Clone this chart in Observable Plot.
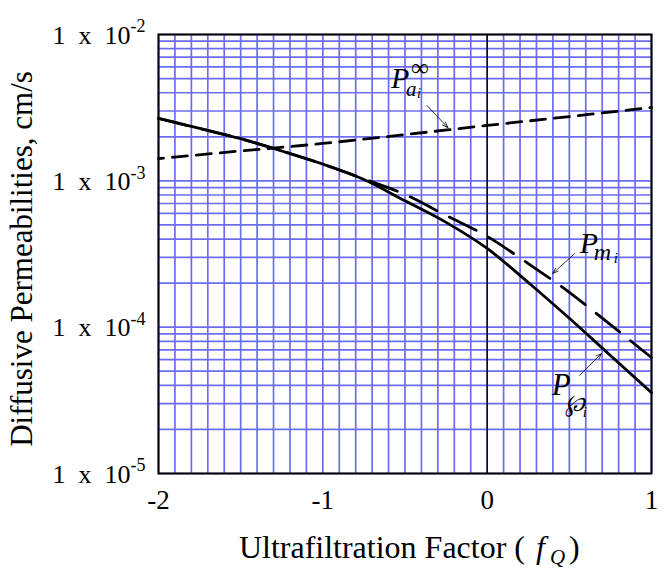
<!DOCTYPE html>
<html>
<head>
<meta charset="utf-8">
<script src="https://cdn.jsdelivr.net/npm/d3@7"></script>
<script src="https://cdn.jsdelivr.net/npm/@observablehq/plot@0.6"></script>
<style>
  html, body { margin: 0; padding: 0; background: #fff; }
  #chart { width: 664px; height: 586px; }
</style>
</head>
<body>
<div id="chart"></div>
<script>
// ---- data ----
const fq = [-2, -1.75, -1.5, -1.25, -1, -0.75, -0.5, -0.25, 0, 0.25, 0.5, 0.75, 1];
const pWeier = [2.67e-3, 2.28e-3, 1.94e-3, 1.60e-3, 1.30e-3, 1.02e-3, 7.3e-4, 5.2e-4, 3.45e-4, 2.02e-4, 1.15e-4, 6.4e-5, 3.57e-5];
const pMem   = [2.67e-3, 2.28e-3, 1.94e-3, 1.60e-3, 1.30e-3, 1.03e-3, 8.07e-4, 5.8e-4, 4.17e-4, 2.72e-4, 1.73e-4, 1.04e-4, 6.2e-5];
const fqA = [-2, -1.5, -1, -0.5, 0, 0.5, 1];
const pAinf = [1.42e-3, 1.60e-3, 1.80e-3, 2.07e-3, 2.39e-3, 2.75e-3, 3.17e-3];

const yTicks = [1e-5, 1e-4, 1e-3, 1e-2];
const yTickBase = "1\u2002x\u200210";
const yTickExp = ["-5", "-4", "-3", "-2"];
const xTicks = [-2, -1, 0, 1];
const xTickLabels = ["-2", "-1", "0", "1"];

const yTitle = "Diffusive Permeabilities, cm/s";
const xTitleMain = "Ultrafiltration Factor (";
const xTitleVar = "f";
const xTitleSub = "Q";
const xTitleEnd = ")";

// annotation anchors (data space) and arrows
const labelX = [-0.585, 0.563, 0.393];
const labelY = [5.0e-3, 3.76e-4, 4.05e-5];
const arrowX1 = [-0.366, 0.532, 0.563];
const arrowY1 = [3.27e-3, 3.18e-4, 4.68e-5];
const arrowX2 = [-0.239, 0.399, 0.696];
const arrowY2 = [2.31e-3, 2.33e-4, 6.61e-5];

// ---- build rows ----
const rowsW = fq.map((x, i) => ({x, y: pWeier[i]}));
const rowsM = fq.map((x, i) => ({x, y: pMem[i]}));
const rowsA = fqA.map((x, i) => ({x, y: pAinf[i]}));
const yTickRows = yTicks.map((v, i) => ({v, exp: yTickExp[i]}));
const xTickRows = xTicks.map((v, i) => ({v, label: xTickLabels[i]}));
const arrows = arrowX1.map((_, i) => ({x1: arrowX1[i], y1: arrowY1[i], x2: arrowX2[i], y2: arrowY2[i]}));
const anchor = (i) => [{x: labelX[i], y: labelY[i]}];

const serif = "Liberation Serif, Times New Roman, DejaVu Serif, serif";
const gridColor = "#6c6cf2";

function part(i, text, o) {
  return Plot.text(anchor(i), {
    x: "x", y: "y", text: () => text, textAnchor: "start", lineAnchor: "middle",
    fontStyle: "italic", fill: "black", fontFamily: serif, ...o
  });
}

const chart = Plot.plot({
  width: 664,
  height: 586,
  marginLeft: 158,
  marginRight: 13,
  marginTop: 34,
  marginBottom: 113,
  style: {fontFamily: serif, background: "white", color: "black"},
  x: {domain: [-2, 1], axis: null},
  y: {type: "log", domain: [1e-5, 1e-2], axis: null},
  marks: [
    Plot.gridX({ticks: 30, stroke: gridColor, strokeOpacity: 1, strokeWidth: 1.7}),
    Plot.gridY({ticks: 30, stroke: gridColor, strokeOpacity: 1, strokeWidth: 1.7}),
    Plot.ruleX([0], {stroke: "black", strokeWidth: 1.4}),
    Plot.frame({stroke: "black", strokeWidth: 2}),
    // curves
    Plot.line(rowsA, {x: "x", y: "y", stroke: "black", strokeWidth: 2.8, strokeDasharray: "15,9", strokeDashoffset: 10, curve: "monotone-x"}),
    Plot.line(rowsM, {x: "x", y: "y", stroke: "black", strokeWidth: 2.8, strokeDasharray: "30,14", curve: "monotone-x"}),
    Plot.line(rowsW, {x: "x", y: "y", stroke: "black", strokeWidth: 2.8, curve: "monotone-x"}),
    // arrows
    Plot.arrow(arrows, {x1: "x1", y1: "y1", x2: "x2", y2: "y2", stroke: "black", strokeWidth: 0.8, headLength: 11, headAngle: 40}),
    // labels: P_{a_i}^inf
    part(0, "P", {fontSize: 30}),
    part(0, "a", {fontSize: 21, dx: 15, dy: 11}),
    part(0, "i", {fontSize: 14, dx: 26, dy: 15}),
    part(0, "\u221E", {fontSize: 25, dx: 20, dy: -11, fontStyle: "normal"}),
    // P_{m_i}
    part(1, "P", {fontSize: 30}),
    part(1, "m", {fontSize: 24, dx: 14, dy: 9}),
    part(1, "i", {fontSize: 15, dx: 34, dy: 15}),
    // P_{\wp_i}
    part(2, "P", {fontSize: 31}),
    part(2, "\u2118", {fontSize: 24, dx: 13, dy: 19, fontFamily: "DejaVu Serif, serif"}),
    part(2, "i", {fontSize: 15, dx: 31, dy: 28}),
    // y tick labels
    Plot.text(yTickRows, {y: "v", text: () => yTickBase, frameAnchor: "left", textAnchor: "end", lineAnchor: "middle", dx: -28, dy: 1, fontSize: 26, fill: "black"}),
    Plot.text(yTickRows, {y: "v", text: "exp", frameAnchor: "left", textAnchor: "start", lineAnchor: "middle", dx: -28, dy: -8, fontSize: 18, fill: "black"}),
    // x tick labels
    Plot.text(xTickRows, {x: "v", text: "label", frameAnchor: "bottom", lineAnchor: "middle", dy: 27, fontSize: 27, fill: "black"}),
    // axis titles
    Plot.text([yTitle], {text: d => d, frameAnchor: "left", textAnchor: "middle", lineAnchor: "middle", dx: -136, dy: 5, rotate: -90, fontSize: 31, fill: "black"}),
    Plot.text([xTitleMain], {text: d => d, frameAnchor: "bottom", textAnchor: "end", lineAnchor: "middle", dx: 120, dy: 74, fontSize: 32, fill: "black"}),
    Plot.text([xTitleVar], {text: d => d, frameAnchor: "bottom", textAnchor: "start", lineAnchor: "middle", dx: 131, dy: 74, fontSize: 32, fontStyle: "italic", fill: "black"}),
    Plot.text([xTitleSub], {text: d => d, frameAnchor: "bottom", textAnchor: "start", lineAnchor: "middle", dx: 145, dy: 84, fontSize: 21, fontStyle: "italic", fill: "black"}),
    Plot.text([xTitleEnd], {text: d => d, frameAnchor: "bottom", textAnchor: "start", lineAnchor: "middle", dx: 164, dy: 74, fontSize: 32, fill: "black"})
  ]
});
document.getElementById("chart").appendChild(chart);
</script>
</body>
</html>
